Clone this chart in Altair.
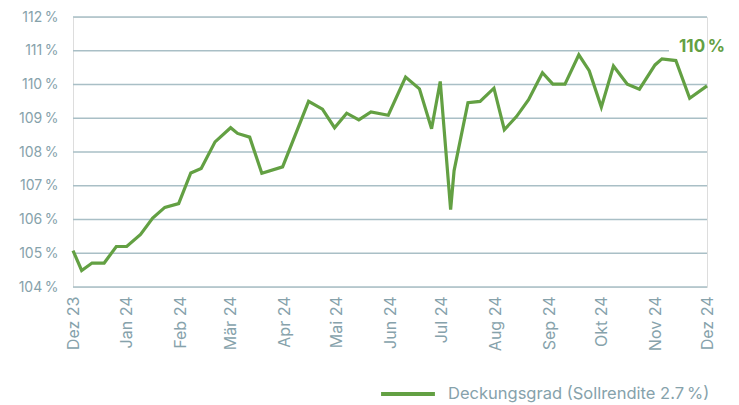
import altair as alt
import pandas as pd

# ---- data ----
dates = [
    "2023-12-01", "2023-12-06", "2023-12-12", "2023-12-19", "2023-12-26",
    "2024-01-01", "2024-01-09", "2024-01-16", "2024-01-23", "2024-01-31",
    "2024-02-07", "2024-02-13", "2024-02-21", "2024-03-01", "2024-03-05",
    "2024-03-12", "2024-03-19", "2024-03-31", "2024-04-15", "2024-04-23",
    "2024-04-30", "2024-05-07", "2024-05-14", "2024-05-21", "2024-05-31",
    "2024-06-10", "2024-06-18", "2024-06-25", "2024-06-30", "2024-07-06",
    "2024-07-08", "2024-07-16", "2024-07-23", "2024-07-31", "2024-08-06",
    "2024-08-13", "2024-08-20", "2024-08-28", "2024-09-03", "2024-09-10",
    "2024-09-18", "2024-09-24", "2024-10-01", "2024-10-08", "2024-10-16",
    "2024-10-23", "2024-11-01", "2024-11-05", "2024-11-13", "2024-11-21",
    "2024-12-01",
]
values = [
    105.08, 104.49, 104.71, 104.71, 105.20,
    105.20, 105.56, 106.04, 106.36, 106.47,
    107.38, 107.51, 108.30, 108.72, 108.55,
    108.44, 107.37, 107.56, 109.50, 109.27,
    108.72, 109.15, 108.95, 109.19, 109.09,
    110.22, 109.87, 108.69, 110.09, 106.29,
    107.45, 109.46, 109.50, 109.89, 108.66,
    109.05, 109.55, 110.35, 110.01, 110.01,
    110.88, 110.41, 109.33, 110.55, 110.01,
    109.86, 110.58, 110.76, 110.71, 109.59,
    109.96,
]
series_name = "Deckungsgrad (Sollrendite 2.7\u202f%)"

y_ticks = [104, 105, 106, 107, 108, 109, 110, 111, 112]
month_ticks = [
    "2023-12-01", "2024-01-01", "2024-02-01", "2024-03-01", "2024-04-01",
    "2024-05-01", "2024-06-01", "2024-07-01", "2024-08-01", "2024-09-01",
    "2024-10-01", "2024-11-01", "2024-12-01",
]
month_labels = [
    "Dez 23", "Jan 24", "Feb 24", "Mär 24", "Apr 24", "Mai 24", "Jun 24",
    "Jul 24", "Aug 24", "Sep 24", "Okt 24", "Nov 24", "Dez 24",
]
end_label = "110\u202f%"
end_label_value = 111.1

# ---- styling ----
GREEN = "#63a043"
GREY_TXT = "#86a2ab"
GRID = "#a9bfc6"
FONT = "Inter"
W, H = 634, 270

df = pd.DataFrame({
    "date": [d + "T00:00:00" for d in dates],
    "value": values,
    "series": [series_name] * len(dates),
})

tick_dt = []
for d in month_ticks:
    y, m, dd = (int(p) for p in d.split("-"))
    tick_dt.append(alt.DateTime(year=y, month=m, date=dd))

label_arr = "[" + ",".join("'" + s + "'" for s in month_labels) + "]"
x_label_expr = label_arr + "[(year(datum.value)-2023)*12 + month(datum.value) - 11]"

x_scale = alt.Scale(
    domain=[alt.DateTime(year=2023, month=12, date=1), alt.DateTime(year=2024, month=12, date=1)],
    nice=False,
)
y_scale = alt.Scale(domain=[104, 112], nice=False, zero=False)

x_axis = alt.Axis(
    title=None, values=tick_dt, labelExpr=x_label_expr, labelAngle=-90,
    labelAlign="right", labelBaseline="middle", labelPadding=9,
    ticks=False, domain=False, grid=False, labelFont=FONT, labelFontSize=16,
    labelColor=GREY_TXT, labelOverlap=False, labelFlush=False,
)
y_axis = alt.Axis(
    title=None, values=y_ticks, labelExpr="datum.value + '\u202f%'",
    ticks=False, domain=False, grid=False, labelPadding=15,
    labelFont=FONT, labelFontSize=14, labelColor=GREY_TXT,
)

grid_df = pd.DataFrame({"value": [v for v in y_ticks if v != 111]})
grid_short_df = pd.DataFrame({"value": [111]})

grid = alt.Chart(grid_df).mark_rule(color=GRID, strokeWidth=1.5).encode(
    y=alt.Y("value:Q", scale=y_scale, axis=y_axis),
    x=alt.value(0), x2=alt.value(W),
)
grid_short = alt.Chart(grid_short_df).mark_rule(color=GRID, strokeWidth=1.5).encode(
    y=alt.Y("value:Q", scale=y_scale, axis=y_axis),
    x=alt.value(0), x2=alt.value(596),
)

line = alt.Chart(df).mark_line(strokeWidth=3.2, strokeJoin="miter", strokeMiterLimit=4).encode(
    x=alt.X("date:T", scale=x_scale, axis=x_axis),
    y=alt.Y("value:Q", scale=y_scale, axis=y_axis),
    color=alt.Color(
        "series:N",
        scale=alt.Scale(range=[GREEN]),
        legend=alt.Legend(
            title=None, orient="none", legendX=306, legendY=348,
            symbolType="stroke", symbolSize=2900, symbolStrokeWidth=4,
            labelFont=FONT, labelFontSize=16.5, labelColor=GREY_TXT,
            labelOffset=11, padding=0, labelLimit=400,
        ),
    ),
)

label = alt.Chart(pd.DataFrame({"date": [dates[-1] + "T00:00:00"], "value": [end_label_value], "t": [end_label]})).mark_text(
    font=FONT, fontSize=17, fontWeight="bold", color=GREEN, align="center", baseline="middle", dx=-5,
).encode(
    x=alt.X("date:T", scale=x_scale, axis=x_axis),
    y=alt.Y("value:Q", scale=y_scale, axis=y_axis),
    text="t:N",
)

chart = alt.layer(grid, grid_short, line, label).properties(
    width=W, height=H,
    autosize=alt.AutoSizeParams(type="none"),
    padding={"left": 65, "top": 9, "right": 24, "bottom": 130},
).configure_view(stroke=None).configure(background="white")

chart.save("out.html", embed_options={"renderer": "svg", "actions": False})
